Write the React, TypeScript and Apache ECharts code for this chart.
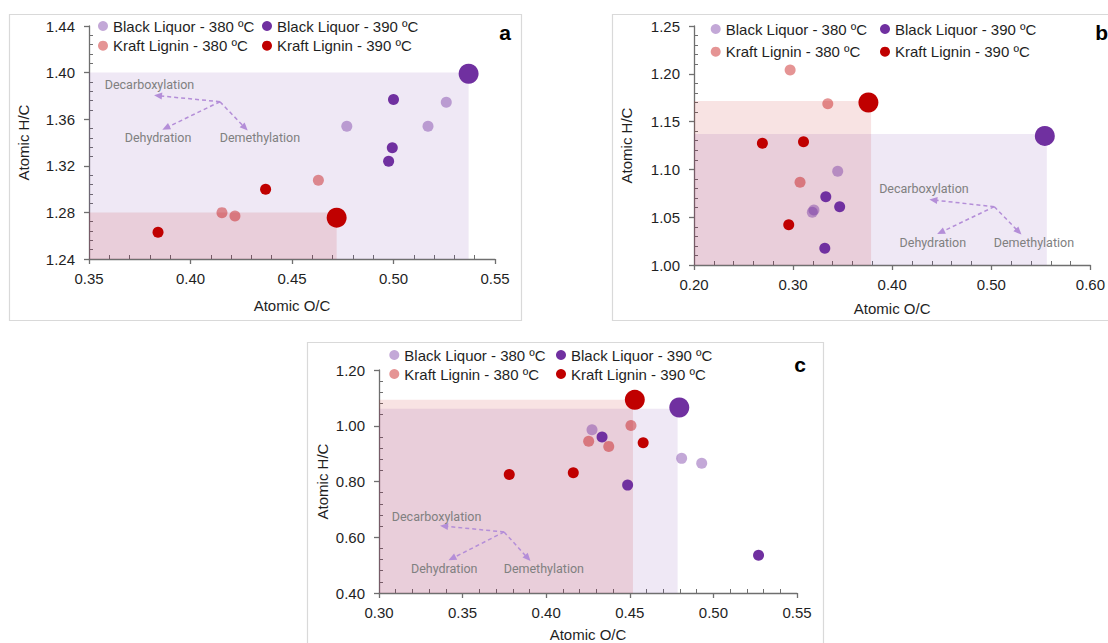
import React, { useEffect, useRef } from 'react';
import * as echarts from 'echarts';

const FONT = '"Liberation Sans", Arial, sans-serif';
const NOTE_FONT = 'Roboto, sans-serif';

const SERIES_NAMES = ['Black Liquor - 380 ºC', 'Black Liquor - 390 ºC', 'Kraft Lignin - 380 ºC', 'Kraft Lignin - 390 ºC'];
const SERIES_COLORS = ['rgba(112,48,160,0.42)', '#7030a0', 'rgba(192,0,0,0.42)', '#c00000'];
const RECT_COLORS = ['rgba(112,48,160,0.11)', 'rgba(192,0,0,0.11)'];
const NOTE_TEXTS = ['Decarboxylation', 'Dehydration', 'Demethylation'];

// ---------- Panel a ----------
const aBL380 = [[0.477, 1.354], [0.517, 1.354], [0.526, 1.3745]];
const aBL390 = [[0.5, 1.377], [0.4994, 1.3355], [0.4976, 1.324]];
const aKL380 = [[0.463, 1.3076], [0.4155, 1.2798], [0.4219, 1.2769]];
const aKL390 = [[0.437, 1.2998], [0.384, 1.263]];
const aBLFeed = [0.537, 1.399];
const aKLFeed = [0.472, 1.2755];
const aRects = [[0.35, 1.24, 0.537, 1.4], [0.35, 1.24, 0.472, 1.28]];
const aNotes = [[0.3798, 1.3902], [0.384, 1.3447], [0.4342, 1.3447]];
const aArrowFrom = [0.4145, 1.375];
const aArrowTo = [[0.384, 1.3802], [0.3879, 1.3525], [0.4268, 1.3527]];

// ---------- Panel b ----------
const bBL380 = [[0.345, 1.098], [0.321, 1.0575], [0.3194, 1.0551]];
const bBL390 = [[0.333, 1.0715], [0.347, 1.061], [0.332, 1.0175]];
const bKL380 = [[0.297, 1.204], [0.335, 1.1687], [0.307, 1.0865]];
const bKL390 = [[0.269, 1.1273], [0.3105, 1.129], [0.2956, 1.0422]];
const bBLFeed = [0.554, 1.135];
const bKLFeed = [0.376, 1.17];
const bRects = [[0.2, 1.0, 0.556, 1.137], [0.2, 1.0, 0.3787, 1.1715]];
const bNotes = [[0.432, 1.0795], [0.441, 1.024], [0.543, 1.024]];
const bArrowFrom = [0.503, 1.061];
const bArrowTo = [[0.4415, 1.068], [0.449, 1.0342], [0.5276, 1.0348]];

// ---------- Panel c ----------
const cBL380 = [[0.4274, 0.986], [0.481, 0.883], [0.493, 0.8655]];
const cBL390 = [[0.4334, 0.9596], [0.4487, 0.787], [0.527, 0.5357]];
const cKL380 = [[0.4254, 0.944], [0.4374, 0.926], [0.4507, 1.001]];
const cKL390 = [[0.3779, 0.825], [0.4162, 0.831], [0.458, 0.939]];
const cBLFeed = [0.4796, 1.0655];
const cKLFeed = [0.453, 1.093];
const cRects = [[0.3, 0.4, 0.4786, 1.0607], [0.3, 0.4, 0.4519, 1.093]];
const cNotes = [[0.3344, 0.676], [0.339, 0.489], [0.3986, 0.489]];
const cArrowFrom = [0.3748, 0.619];
const cArrowTo = [[0.3389, 0.64], [0.3437, 0.524], [0.389, 0.525]];

// axis ranges [min, max, interval]
const aX = [0.35, 0.55, 0.05];
const aY = [1.24, 1.44, 0.04];
const bX = [0.2, 0.6, 0.1];
const bY = [1.0, 1.25, 0.05];
const cX = [0.3, 0.55, 0.05];
const cY = [0.4, 1.2, 0.2];

const AXIS_COLOR = '#6f6f6f';

function axis(r: number[], nameGap: number, isY: boolean) {
  return {
    type: 'value',
    min: r[0],
    max: r[1],
    interval: r[2],
    name: isY ? 'Atomic H/C' : 'Atomic O/C',
    nameLocation: 'middle',
    nameGap,
    nameTextStyle: { fontSize: 15, color: '#1f1f1f', fontFamily: FONT },
    axisLine: { show: true, onZero: false, lineStyle: { color: AXIS_COLOR, width: 1.3 } },
    axisTick: { show: true, length: 5, lineStyle: { color: AXIS_COLOR, width: 1.3 } },
    minorTick: { show: true, splitNumber: 5, length: -4, lineStyle: { color: AXIS_COLOR, width: 1 } },
    splitLine: { show: false },
    minorSplitLine: { show: false },
    axisLabel: {
      fontSize: 15,
      color: '#1f1f1f',
      fontFamily: FONT,
      margin: isY ? 14 : 12,
      formatter: (v: number) => v.toFixed(2),
    },
  };
}

type Panel = {
  grid: any;
  x: number[];
  y: number[];
  xGap: number;
  yGap: number;
  groups: number[][][];
  blFeed: number[];
  klFeed: number[];
  rects: number[][];
  notes: number[][];
  from: number[];
  to: number[][];
  legendLeft: number[];
  legendTop: number;
  legendGap: number;
};

const panels: Panel[] = [
  {
    grid: { left: 89, top: 26, width: 406, height: 233 },
    x: aX, y: aY, xGap: 39, yGap: 58,
    groups: [aBL380, aBL390, aKL380, aKL390], blFeed: aBLFeed, klFeed: aKLFeed,
    rects: aRects, notes: aNotes, from: aArrowFrom, to: aArrowTo,
    legendLeft: [98, 262], legendTop: 18, legendGap: 3.7,
  },
  {
    grid: { left: 694, top: 26, width: 403, height: 239 },
    x: bX, y: bY, xGap: 36, yGap: 60,
    groups: [bBL380, bBL390, bKL380, bKL390], blFeed: bBLFeed, klFeed: bKLFeed,
    rects: bRects, notes: bNotes, from: bArrowFrom, to: bArrowTo,
    legendLeft: [710.7, 880], legendTop: 21, legendGap: 6.7,
  },
  {
    grid: { left: 379, top: 370, width: 418, height: 224 },
    x: cX, y: cY, xGap: 34, yGap: 49,
    groups: [cBL380, cBL390, cKL380, cKL390], blFeed: cBLFeed, klFeed: cKLFeed,
    rects: cRects, notes: cNotes, from: cArrowFrom, to: cArrowTo,
    legendLeft: [389.3, 556], legendTop: 347, legendGap: 3,
  },
];

function buildOption() {
  const grids: any[] = [];
  const xAxes: any[] = [];
  const yAxes: any[] = [];
  const series: any[] = [];
  const legends: any[] = [];

  panels.forEach((p, i) => {
    grids.push(p.grid);
    xAxes.push({ ...axis(p.x, p.xGap, false), gridIndex: i });
    yAxes.push({ ...axis(p.y, p.yGap, true), gridIndex: i });

    series.push({
      type: 'custom',
      xAxisIndex: i,
      yAxisIndex: i,
      z: 1,
      silent: true,
      data: p.rects.map((r, k) => [...r, k]),
      renderItem: (params: any, api: any) => {
        const p0 = api.coord([api.value(0), api.value(1)]);
        const p1 = api.coord([api.value(2), api.value(3)]);
        return {
          type: 'rect',
          shape: { x: p0[0], y: p1[1], width: p1[0] - p0[0], height: p0[1] - p1[1] },
          style: { fill: RECT_COLORS[api.value(4)] },
        };
      },
      markLine: {
        silent: true,
        animation: false,
        symbol: ['none', 'triangle'],
        symbolSize: [7, 8],
        label: { show: false },
        lineStyle: { type: [4, 3], color: '#b48ed8', width: 1.5 },
        emphasis: { disabled: true },
        data: p.to.map((e) => [{ coord: p.from }, { coord: e }]),
      },
      markPoint: {
        silent: true,
        animation: false,
        symbol: 'circle',
        symbolSize: 1,
        itemStyle: { color: 'transparent' },
        label: {
          show: true,
          position: 'inside',
          formatter: '{b}',
          color: '#808080',
          fontSize: 12.5,
          fontFamily: NOTE_FONT,
        },
        data: p.notes.map((n, k) => ({ name: NOTE_TEXTS[k], coord: n })),
      },
    });

    p.groups.forEach((g, k) => {
      const data: any[] = g.map((v) => ({ value: v }));
      if (k === 1) data.push({ value: p.blFeed, symbolSize: 20 });
      if (k === 3) data.push({ value: p.klFeed, symbolSize: 20 });
      series.push({
        type: 'scatter',
        name: SERIES_NAMES[k],
        xAxisIndex: i,
        yAxisIndex: i,
        z: 3,
        symbolSize: 11,
        itemStyle: { color: SERIES_COLORS[k], opacity: 1 },
        emphasis: { disabled: true },
        data,
      });
    });

    [0, 1].forEach((col) => {
      legends.push({
        orient: 'vertical',
        left: p.legendLeft[col],
        top: p.legendTop,
        padding: 0,
        itemGap: p.legendGap,
        itemWidth: 10,
        itemHeight: 10,
        icon: 'circle',
        selectedMode: false,
        textStyle: { fontSize: 15, lineHeight: 16, color: '#1f1f1f', fontFamily: FONT },
        data: [SERIES_NAMES[col], SERIES_NAMES[col + 2]],
      });
    });
  });

  const frame = (x: number, y: number, w: number, h: number) => ({
    type: 'rect',
    shape: { x, y, width: w, height: h },
    style: { fill: 'none', stroke: '#d9d9d9', lineWidth: 1.2 },
    silent: true,
    z: 0,
  });
  const letter = (t: string, x: number, y: number, align: string) => ({
    type: 'text',
    x,
    y,
    style: { text: t, fontSize: 21, fontWeight: 'bold', fill: '#000', fontFamily: FONT, textAlign: align, textVerticalAlign: 'middle' },
    silent: true,
  });

  return {
    animation: false,
    backgroundColor: '#ffffff',
    grid: grids,
    xAxis: xAxes,
    yAxis: yAxes,
    legend: legends,
    series,
    graphic: [
      frame(9.5, 14.5, 512, 306),
      frame(612.5, 14.5, 520, 306),
      frame(307.5, 342.5, 516, 330),
      letter('a', 505, 32, 'center'),
      letter('b', 1108, 32, 'right'),
      letter('c', 800, 364, 'center'),
    ],
  };
}

export default function App() {
  const ref = useRef<HTMLDivElement>(null);
  useEffect(() => {
    document.body.style.margin = '0';
    if (!ref.current) return;
    const chart = echarts.init(ref.current, undefined, { renderer: 'svg' });
    chart.setOption(buildOption() as any);
    return () => chart.dispose();
  }, []);
  return <div ref={ref} style={{ width: 1108, height: 643 }} />;
}
